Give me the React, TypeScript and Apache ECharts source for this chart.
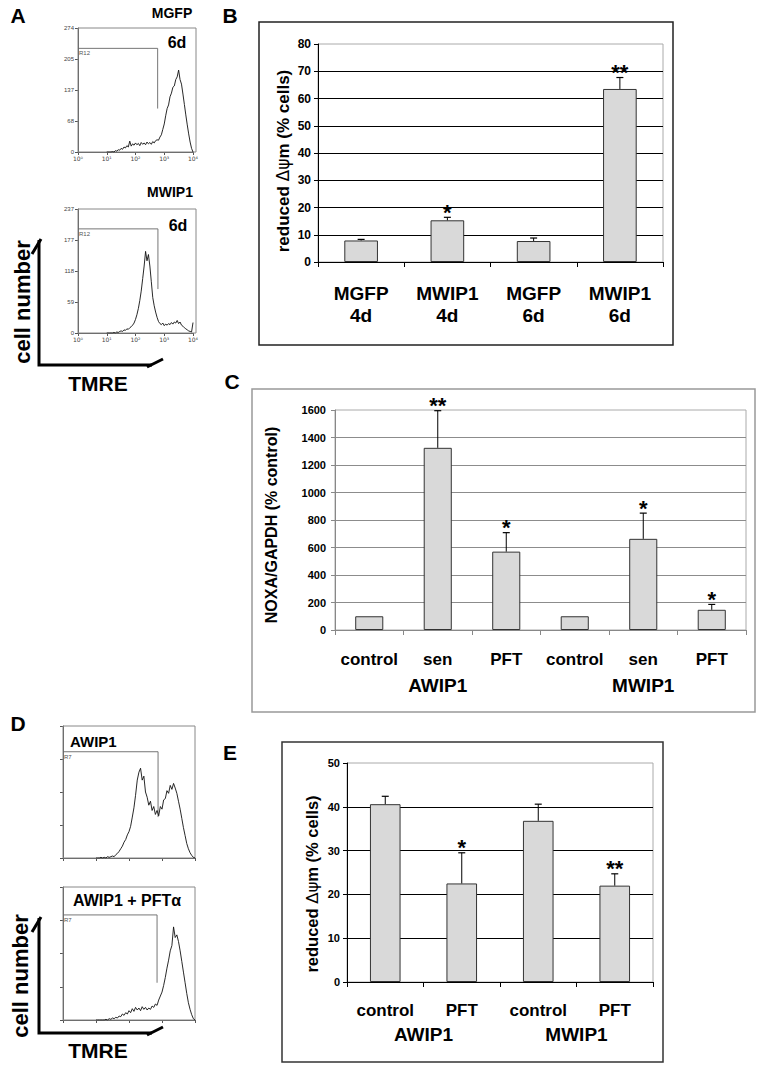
import React, { useEffect, useRef } from "react";
import * as echarts from "echarts";

const FONT = "'Liberation Sans', Arial, sans-serif";

// Flow cytometry channels (TMRE intensity), log spaced 10^1 .. 10^4
const channels = [
  10, 11.2, 12.6, 14.1, 15.8, 17.8, 20, 22.4, 25.1, 28.2, 31.6, 35.5, 39.8, 44.7, 50.1, 56.2, 63.1, 70.8, 79.4, 89.1,
  100, 112, 126, 141, 158, 178, 200, 224, 251, 282, 316, 355, 398, 447, 501, 562, 631, 708, 794, 891,
  1000, 1122, 1259, 1413, 1585, 1778, 1995, 2239, 2512, 2818, 3162, 3548, 3981, 4467, 5012, 5623, 6310, 7079, 7943, 8913, 10000,
];
const mgfpCounts = [
  0, 0, 0, 0, 1, 0, 3, 2, 5, 4, 8, 6, 11, 9, 14, 11, 24, 13, 18, 15,
  20, 16, 19, 14, 21, 17, 20, 16, 22, 18, 21, 17, 23, 20, 25, 27, 26, 33, 38, 50,
  62, 80, 96, 104, 122, 130, 143, 146, 160, 166, 181, 160, 150, 128, 105, 82, 60, 40, 22, 8, 0,
];
const mwip1Counts = [
  0, 0, 0, 0, 0, 1, 0, 2, 1, 3, 4, 3, 6, 5, 8, 7, 10, 12, 15, 19,
  26, 35, 47, 62, 80, 104, 128, 156, 138, 150, 128, 98, 68, 52, 40, 30, 22, 18, 16, 19,
  14, 17, 15, 18, 16, 20, 17, 21, 19, 24, 18, 21, 15, 13, 10, 8, 6, 4, 3, 2, 20,
];
const awip1Counts = [
  0, 0, 0, 1, 0, 1, 0, 2, 1, 2, 3, 2, 5, 7, 10, 14, 18, 24, 28, 35,
  40, 48, 62, 76, 95, 118, 130, 136, 118, 124, 100, 92, 80, 86, 72, 78, 66, 72, 64, 78,
  74, 88, 90, 102, 98, 110, 104, 113, 106, 98, 86, 74, 60, 46, 34, 22, 14, 8, 4, 1, 0,
];
const awip1PftCounts = [
  0, 0, 0, 0, 0, 0, 1, 0, 2, 1, 3, 2, 4, 3, 6, 5, 9, 7, 11, 9,
  14, 11, 17, 13, 19, 15, 18, 14, 20, 16, 19, 15, 18, 16, 21, 19, 24, 22, 30, 36,
  42, 52, 64, 78, 90, 104, 112, 140, 124, 128, 118, 104, 88, 72, 56, 40, 26, 16, 8, 2, 0,
];
const gateA1 = [[1, 229], [589, 229], [589, 96]];
const gateA2 = [[1, 199], [603, 199], [603, 84]];
const gateD1 = [[1, 161], [759, 161], [759, 62]];
const gateD2 = [[1, 158], [708, 158], [708, 56]];

const bCategories = ["MGFP\n4d", "MWIP1\n4d", "MGFP\n6d", "MWIP1\n6d"];
const bValues = [7.9, 15.3, 7.7, 63.5];
const bErrors = [0.4, 1.1, 1.1, 4.2];
const bStars = ["", "*", "", "**"];

const cCategories = ["control", "sen", "PFT", "control", "sen", "PFT"];
const cGroups = ["AWIP1", "MWIP1"];
const cValues = [100, 1325, 570, 100, 663, 147];
const cErrors = [0, 270, 138, 0, 187, 39];
const cStars = ["", "**", "*", "", "*", "*"];

const eCategories = ["control", "PFT", "control", "PFT"];
const eGroups = ["AWIP1", "MWIP1"];
const eValues = [40.6, 22.5, 36.8, 22.0];
const eErrors = [1.8, 7.0, 3.8, 2.7];
const eStars = ["", "*", "", "**"];

const SUP = ["⁰", "¹", "²", "³", "⁴"];

function histX(gridIndex: number, labels: boolean) {
  return {
    gridIndex,
    type: "log",
    logBase: 10,
    min: 1,
    max: 10000,
    axisLine: { show: true, lineStyle: { color: "#555", width: 1 } },
    axisTick: { show: true, length: 3, lineStyle: { color: "#555" } },
    minorTick: { show: false },
    splitLine: { show: false },
    axisLabel: {
      show: labels,
      fontSize: 6,
      color: "#444",
      margin: 3,
      fontFamily: "'DejaVu Sans', sans-serif",
      formatter: (v: number) => "10" + (SUP[Math.round(Math.log10(v))] || ""),
    },
  };
}
function histY(gridIndex: number, max: number, interval: number, labels: boolean) {
  return {
    gridIndex,
    type: "value",
    min: 0,
    max,
    interval,
    axisLine: { show: true, lineStyle: { color: "#555", width: 1 } },
    axisTick: { show: true, length: 3, lineStyle: { color: "#555" } },
    splitLine: { show: false },
    axisLabel: {
      show: labels,
      fontSize: 6,
      color: "#444",
      margin: 4,
      fontFamily: FONT,
      formatter: (v: number) => String(Math.floor(v)),
    },
  };
}
function histLine(xi: number, yi: number, counts: number[]) {
  return {
    type: "line",
    xAxisIndex: xi,
    yAxisIndex: yi,
    data: channels.map((c, i) => [c, counts[i]]),
    showSymbol: false,
    symbol: "none",
    silent: true,
    lineStyle: { color: "#111", width: 0.9 },
    z: 3,
  };
}
function gateLine(xi: number, yi: number, pts: number[][]) {
  return {
    type: "line",
    xAxisIndex: xi,
    yAxisIndex: yi,
    data: pts,
    showSymbol: false,
    symbol: "none",
    silent: true,
    lineStyle: { color: "#666", width: 0.9 },
    z: 2,
  };
}
function barSeries(xi: number, yi: number, values: number[], width: string) {
  return {
    type: "bar",
    xAxisIndex: xi,
    yAxisIndex: yi,
    data: values,
    barWidth: width,
    silent: true,
    itemStyle: { color: "#d9d9d9", borderColor: "#333", borderWidth: 1 },
    z: 3,
  };
}
function errSeries(xi: number, yi: number, values: number[], errors: number[], stars: string[]) {
  return {
    type: "custom",
    xAxisIndex: xi,
    yAxisIndex: yi,
    clip: false,
    silent: true,
    z: 5,
    data: values.map((v, i) => [i, v, errors[i]]),
    renderItem: (params: any, api: any) => {
      const i = api.value(0);
      const v = api.value(1);
      const e = api.value(2);
      const base = api.coord([i, v]);
      const top = api.coord([i, v + e]);
      const children: any[] = [];
      if (e > 0) {
        children.push({
          type: "line",
          shape: { x1: base[0], y1: base[1], x2: top[0], y2: top[1] },
          style: { stroke: "#000", lineWidth: 1 },
        });
        children.push({
          type: "line",
          shape: { x1: top[0] - 3.5, y1: top[1], x2: top[0] + 3.5, y2: top[1] },
          style: { stroke: "#000", lineWidth: 1.2 },
        });
      }
      const s = stars[params.dataIndex];
      if (s) {
        children.push({
          type: "text",
          x: top[0],
          y: top[1] - 5,
          style: {
            text: s,
            textAlign: "center",
            textVerticalAlign: "middle",
            fontSize: 22,
            fontWeight: "bold",
            fontFamily: FONT,
            fill: "#000",
          },
        });
      }
      return { type: "group", children };
    },
  };
}

function txt(x: number, y: number, text: string, size: number, o: any = {}) {
  return {
    type: "text",
    x,
    y,
    rotation: o.rot || 0,
    z: 20,
    style: {
      text,
      fontSize: size,
      fontWeight: o.weight || "bold",
      fontFamily: FONT,
      fill: o.color || "#000",
      textAlign: o.align || "center",
      textVerticalAlign: "middle",
      rich: o.rich,
    },
  };
}
function box(x: number, y: number, w: number, h: number, color: string, lw: number) {
  return {
    type: "rect",
    z: 1,
    shape: { x, y, width: w, height: h },
    style: { fill: "none", stroke: color, lineWidth: lw },
  };
}
function seg(x1: number, y1: number, x2: number, y2: number) {
  return {
    type: "line",
    z: 20,
    shape: { x1, y1, x2, y2 },
    style: { stroke: "#000", lineWidth: 3 },
  };
}
function arrows(yTop: number, yCorner: number) {
  return [
    {
      type: "polyline",
      z: 20,
      shape: { points: [[39, yTop], [39, yCorner], [152, yCorner]] },
      style: { stroke: "#000", lineWidth: 3, fill: "none" },
    },
    seg(32, yTop + 14, 41, yTop - 1),
    seg(147, yCorner + 2, 163, yCorner - 6),
  ];
}

function barX(gridIndex: number, data: string[], color: string, size: number, margin: number) {
  return {
    gridIndex,
    type: "category",
    data,
    position: "bottom",
    axisLine: { show: true, lineStyle: { color, width: 1 } },
    axisTick: { show: true, length: 5, lineStyle: { color } },
    splitLine: { show: false },
    axisLabel: {
      fontSize: size,
      fontWeight: "bold",
      color: "#000",
      fontFamily: FONT,
      margin,
      lineHeight: 22,
      interval: 0,
    },
  };
}
function groupX(gridIndex: number, data: string[], margin: number) {
  return {
    gridIndex,
    type: "category",
    data,
    position: "bottom",
    axisLine: { show: false },
    axisTick: { show: false },
    splitLine: { show: false },
    axisLabel: { fontSize: 19, fontWeight: "bold", color: "#000", fontFamily: FONT, margin, interval: 0 },
  };
}
function barY(gridIndex: number, max: number, interval: number, color: string, gridColor: string, size: number, margin: number) {
  return {
    gridIndex,
    type: "value",
    min: 0,
    max,
    interval,
    axisLine: { show: true, lineStyle: { color, width: 1 } },
    axisTick: { show: true, length: 4, lineStyle: { color } },
    splitLine: { show: true, showMaxLine: false, lineStyle: { color: gridColor, width: 1 } },
    axisLabel: {
      fontSize: size,
      fontWeight: "bold",
      color: "#000",
      fontFamily: FONT,
      margin,
      formatter: (v: number) => String(v),
    },
  };
}

function buildOption(): any {
  const symRich = (size: number) => ({
    g: { fontFamily: "'DejaVu Sans', sans-serif", fontWeight: "normal", fontSize: size, fill: "#000" },
  });
  return {
    animation: false,
    backgroundColor: "#fff",
    grid: [
      { left: 78, top: 28, width: 115, height: 124 },
      { left: 78, top: 209, width: 115, height: 124 },
      { left: 318, top: 44, width: 345, height: 218, show: true, borderColor: "#aaa", borderWidth: 1 },
      { left: 335, top: 410, width: 411, height: 220, show: true, borderColor: "#aaa", borderWidth: 1 },
      { left: 63, top: 726, width: 132, height: 132 },
      { left: 63, top: 887, width: 132, height: 133 },
      { left: 347, top: 763, width: 306, height: 219, show: true, borderColor: "#aaa", borderWidth: 1 },
    ],
    xAxis: [
      histX(0, true),
      histX(1, true),
      barX(2, bCategories, "#000", 19, 20),
      barX(3, cCategories, "#888", 17, 18),
      groupX(3, cGroups, 46),
      histX(4, false),
      histX(5, false),
      barX(6, eCategories, "#000", 17, 17),
      groupX(6, eGroups, 43),
    ],
    yAxis: [
      histY(0, 274, 68.5, true),
      histY(1, 237, 59.25, true),
      barY(2, 80, 10, "#000", "#000", 12, 7),
      barY(3, 1600, 200, "#888", "#8c8c8c", 11, 9),
      histY(4, 200, 50, false),
      histY(5, 200, 50, false),
      barY(6, 50, 10, "#000", "#000", 11, 7),
    ],
    series: [
      histLine(0, 0, mgfpCounts),
      gateLine(0, 0, gateA1),
      histLine(1, 1, mwip1Counts),
      gateLine(1, 1, gateA2),
      barSeries(2, 2, bValues, "39%"),
      errSeries(2, 2, bValues, bErrors, bStars),
      barSeries(3, 3, cValues, "41%"),
      errSeries(3, 3, cValues, cErrors, cStars),
      histLine(5, 4, awip1Counts),
      gateLine(5, 4, gateD1),
      histLine(6, 5, awip1PftCounts),
      gateLine(6, 5, gateD2),
      barSeries(7, 6, eValues, "40%"),
      errSeries(7, 6, eValues, eErrors, eStars),
    ],
    graphic: [
      // frames
      box(78, 28, 118, 124, "#888", 1),
      box(78, 209, 118, 124, "#888", 1),
      box(63, 726, 132, 132, "#888", 1),
      box(63, 887, 132, 133, "#888", 1),
      box(259, 22, 414, 323, "#222", 1.5),
      box(252, 389, 503, 323, "#999", 1.5),
      box(282, 742, 381, 320, "#333", 1.5),
      // panel letters
      txt(18, 15, "A", 21),
      txt(230, 15, "B", 21),
      txt(232, 381, "C", 21),
      txt(18, 723, "D", 21),
      txt(230, 752, "E", 21),
      // panel A texts
      txt(172, 13, "MGFP", 14),
      txt(177, 42, "6d", 16),
      txt(170, 192, "MWIP1", 14),
      txt(178, 225, "6d", 16),
      txt(79, 53, "R12", 6, { weight: "normal", color: "#555", align: "left" }),
      txt(79, 234, "R12", 6, { weight: "normal", color: "#555", align: "left" }),
      ...arrows(240, 365),
      txt(22, 302, "cell number", 22, { rot: Math.PI / 2 }),
      txt(98, 383, "TMRE", 21),
      // panel D texts
      txt(70, 741, "AWIP1", 15, { align: "left" }),
      txt(73, 900, "AWIP1 + PFTα", 16, { align: "left" }),
      txt(64, 757, "R7", 6, { weight: "normal", color: "#555", align: "left" }),
      txt(64, 920, "R7", 6, { weight: "normal", color: "#555", align: "left" }),
      ...arrows(918, 1033),
      txt(20, 976, "cell number", 22, { rot: Math.PI / 2 }),
      txt(98, 1050, "TMRE", 21),
      // axis titles
      txt(283, 161, "reduced {g|Δψ}m (% cells)", 17, { rot: Math.PI / 2, rich: symRich(17) }),
      txt(271, 525, "NOXA/GAPDH (% control)", 16, { rot: Math.PI / 2 }),
      txt(312, 884, "reduced {g|Δψ}m (% cells)", 16.5, { rot: Math.PI / 2, rich: symRich(16.5) }),
    ],
  };
}

export default function App() {
  const ref = useRef<HTMLDivElement>(null);
  useEffect(() => {
    if (!ref.current) return;
    const chart = echarts.init(ref.current, null, { renderer: "svg" });
    chart.setOption(buildOption());
    return () => chart.dispose();
  }, []);
  return (
    <div
      ref={ref}
      style={{ position: "absolute", left: 0, top: 0, width: 758, height: 1078, background: "#fff" }}
    />
  );
}
